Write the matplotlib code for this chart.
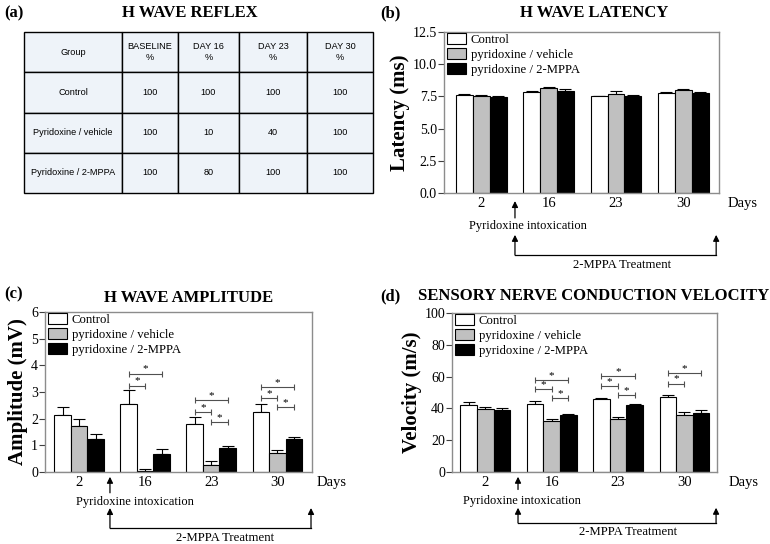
import numpy as np
import matplotlib
matplotlib.use('Agg')
import matplotlib.pyplot as plt

plt.rcParams['font.family'] = 'Liberation Serif'

# Table data (a)
table_cols = ['Group', 'BASELINE\n%', 'DAY 16\n%', 'DAY 23\n%', 'DAY 30\n%']
table_rows = [['Control', '100', '100', '100', '100'],
              ['Pyridoxine / vehicle', '100', '10', '40', '100'],
              ['Pyridoxine / 2-MPPA', '100', '80', '100', '100']]

days = ['2', '16', '23', '30']
groups = ['Control', 'pyridoxine / vehicle', 'pyridoxine / 2-MPPA']

# Latency (b)
lat_mean = [[7.6, 7.85, 7.5, 7.75],
            [7.55, 8.15, 7.7, 8.0],
            [7.45, 7.95, 7.55, 7.8]]
lat_err = [[0.08, 0.1, 0.03, 0.1],
           [0.06, 0.05, 0.2, 0.06],
           [0.08, 0.15, 0.05, 0.06]]

# Amplitude (c)
amp_mean = [[2.15, 2.55, 1.81, 2.25],
            [1.74, 0.05, 0.25, 0.71],
            [1.23, 0.69, 0.89, 1.23]]
amp_err = [[0.28, 0.53, 0.25, 0.3],
           [0.25, 0.06, 0.15, 0.13],
           [0.2, 0.17, 0.09, 0.08]]
# significance brackets: (day index, group a, group b, height)
amp_sig = [(1, 0, 1, 3.24), (1, 0, 2, 3.69),
           (2, 0, 1, 2.24), (2, 0, 2, 2.69), (2, 1, 2, 1.875),
           (3, 0, 1, 2.76), (3, 0, 2, 3.19), (3, 1, 2, 2.44)]

# Velocity (d)
vel_mean = [[42.3, 43.0, 45.7, 47.2],
            [39.8, 31.9, 33.3, 35.6],
            [39.0, 35.6, 41.9, 37.3]]
vel_err = [[1.5, 1.9, 1.1, 1.2],
           [1.3, 1.4, 1.5, 1.9],
           [1.5, 1.1, 1.1, 1.9]]
vel_sig = [(1, 0, 1, 52.2), (1, 0, 2, 58.0), (1, 1, 2, 46.5),
           (2, 0, 1, 53.9), (2, 0, 2, 60.4), (2, 1, 2, 48.2),
           (3, 0, 1, 55.6), (3, 0, 2, 62.3)]

W, H = 770, 544
fig = plt.figure(figsize=(W / 100, H / 100), dpi=100)


def px_axes(left, top, right, bottom):
    return fig.add_axes([left / W, 1 - bottom / H, (right - left) / W, (bottom - top) / H])


colors = ['white', '#c0c0c0', 'black']
bw = 0.25
x = np.arange(len(days))


def up_arrow(ax, xx, y0, y1):
    trans = ax.get_xaxis_transform()
    ax.annotate('', xy=(xx, y1), xytext=(xx, y0), xycoords=trans, textcoords=trans,
                arrowprops=dict(arrowstyle='-|>', color='black', lw=0.9,
                                mutation_scale=9, shrinkA=0, shrinkB=0))


def bar_panel(ax, means, errs, xlim, ylim, yticks, ylabel, fmt, sig, tl):
    for i in range(3):
        xs = x + (i - 1) * bw
        ax.bar(xs, means[i], bw, color=colors[i], edgecolor='black', linewidth=0.8,
               label=groups[i], zorder=2)
        ax.errorbar(xs, means[i], yerr=[np.zeros(4), errs[i]], fmt='none', ecolor='black',
                    elinewidth=0.8, capsize=4, capthick=0.8, zorder=1)
    for d, a, b, h in sig:
        xa = d + (a - 1) * bw
        xb = d + (b - 1) * bw
        ax.errorbar((xa + xb) / 2, h, xerr=(xb - xa) / 2, fmt='none', ecolor='#505050',
                    elinewidth=0.8, capsize=2.5, capthick=0.8)
        ax.text((xa + xb) / 2, h, '*', ha='center', va='bottom', fontsize=8)
    ax.set_xlim(xlim)
    ax.set_ylim(ylim)
    ax.set_yticks(yticks)
    ax.set_yticklabels([fmt % v for v in yticks], fontsize=10)
    ax.set_xticks(x)
    ax.set_xticklabels(days, fontsize=10.5)
    ax.tick_params(axis='x', length=0, pad=3)
    ax.tick_params(axis='y', length=4, width=0.8, color='#404040', pad=1)
    for s in ax.spines.values():
        s.set_color('#8c8c8c')
        s.set_linewidth(1.0)
    ax.set_ylabel(ylabel, fontsize=15, fontweight='bold', labelpad=2)
    ax.legend(loc='upper left', bbox_to_anchor=(0, 1.01), frameon=False, fontsize=9.2,
              handlelength=1.5, handleheight=1.0, labelspacing=0.15, handletextpad=0.4,
              borderaxespad=0.1, borderpad=0.1)
    trans = ax.get_xaxis_transform()
    ax.text(tl['days_x'], -0.025, 'Days', transform=trans, ha='left', va='top', fontsize=10.5)
    # pyridoxine arrow
    up_arrow(ax, tl['arrow_x'], tl['tail1'], tl['tip1'])
    ax.text(tl['pyr_x'], tl['pyr_y'], 'Pyridoxine intoxication', transform=trans,
            ha='center', va='center', fontsize=9)
    # treatment bracket
    for xx in (tl['arrow_x'], tl['end_x']):
        up_arrow(ax, xx, tl['line_y'], tl['tip2'])
    ax.plot([tl['arrow_x'], tl['end_x']], [tl['line_y'], tl['line_y']], color='black',
            lw=0.9, transform=trans, clip_on=False)
    ax.text(tl['mppa_x'], tl['mppa_y'], '2-MPPA Treatment', transform=trans,
            ha='center', va='center', fontsize=9.2)


# (a) table
ax_a = px_axes(24, 32, 373, 193)
ax_a.axis('off')
tab = ax_a.table(cellText=table_rows, colLabels=table_cols, cellLoc='center',
                 bbox=[0, 0, 1, 1], colWidths=[98, 56, 61, 68, 66])
tab.auto_set_font_size(False)
for (r, c), cell in tab.get_celld().items():
    cell.set_facecolor('#eef3f9')
    cell.set_edgecolor('black')
    cell.set_linewidth(1.0)
    cell.get_text().set_fontfamily('Liberation Sans')
    cell.get_text().set_fontsize(6.6)
fig.text(190 / W, 1 - 13 / H, 'H WAVE REFLEX', ha='center', va='center',
         fontsize=12, fontweight='bold')
fig.text(4 / W, 1 - 13 / H, '(a)', ha='left', va='center', fontsize=12, fontweight='bold')

# (b) latency
ax_b = px_axes(444, 32, 719, 193)
bar_panel(ax_b, lat_mean, lat_err, (-0.554, 3.53), (0, 12.5),
          [0, 2.5, 5.0, 7.5, 10.0, 12.5], 'Latency (ms)', '%.1f', [],
          dict(days_x=3.66, arrow_x=0.50, end_x=3.488, tip1=-0.05, tail1=-0.155,
               pyr_x=0.69, pyr_y=-0.205, tip2=-0.26, line_y=-0.385,
               mppa_x=2.09, mppa_y=-0.45))
fig.text(594 / W, 1 - 13 / H, 'H WAVE LATENCY', ha='center', va='center',
         fontsize=12, fontweight='bold')
fig.text(380 / W, 1 - 13 / H, '(b)', ha='left', va='center', fontsize=12, fontweight='bold')

# (c) amplitude
ax_c = px_axes(45, 312, 312, 472)
bar_panel(ax_c, amp_mean, amp_err, (-0.515, 3.525), (0, 6), [0, 1, 2, 3, 4, 5, 6],
          'Amplitude (mV)', '%d', amp_sig,
          dict(days_x=3.6, arrow_x=0.468, end_x=3.51, tip1=-0.03, tail1=-0.13,
               pyr_x=0.85, pyr_y=-0.19, tip2=-0.225, line_y=-0.35,
               mppa_x=2.21, mppa_y=-0.41))
fig.text(189 / W, 1 - 298 / H, 'H WAVE AMPLITUDE', ha='center', va='center',
         fontsize=12, fontweight='bold')
fig.text(4 / W, 1 - 294 / H, '(c)', ha='left', va='center', fontsize=12, fontweight='bold')

# (d) velocity
ax_d = px_axes(452, 313, 717, 472)
bar_panel(ax_d, vel_mean, vel_err, (-0.5, 3.49), (0, 100), [0, 20, 40, 60, 80, 100],
          'Velocity (m/s)', '%d', vel_sig,
          dict(days_x=3.66, arrow_x=0.494, end_x=3.476, tip1=-0.03, tail1=-0.11,
               pyr_x=0.55, pyr_y=-0.18, tip2=-0.225, line_y=-0.32,
               mppa_x=2.15, mppa_y=-0.38))
fig.text(594 / W, 1 - 296 / H, 'SENSORY NERVE CONDUCTION VELOCITY', ha='center', va='center',
         fontsize=12, fontweight='bold')
fig.text(380 / W, 1 - 296 / H, '(d)', ha='left', va='center', fontsize=12, fontweight='bold')

fig.savefig('out.png', dpi=100)
